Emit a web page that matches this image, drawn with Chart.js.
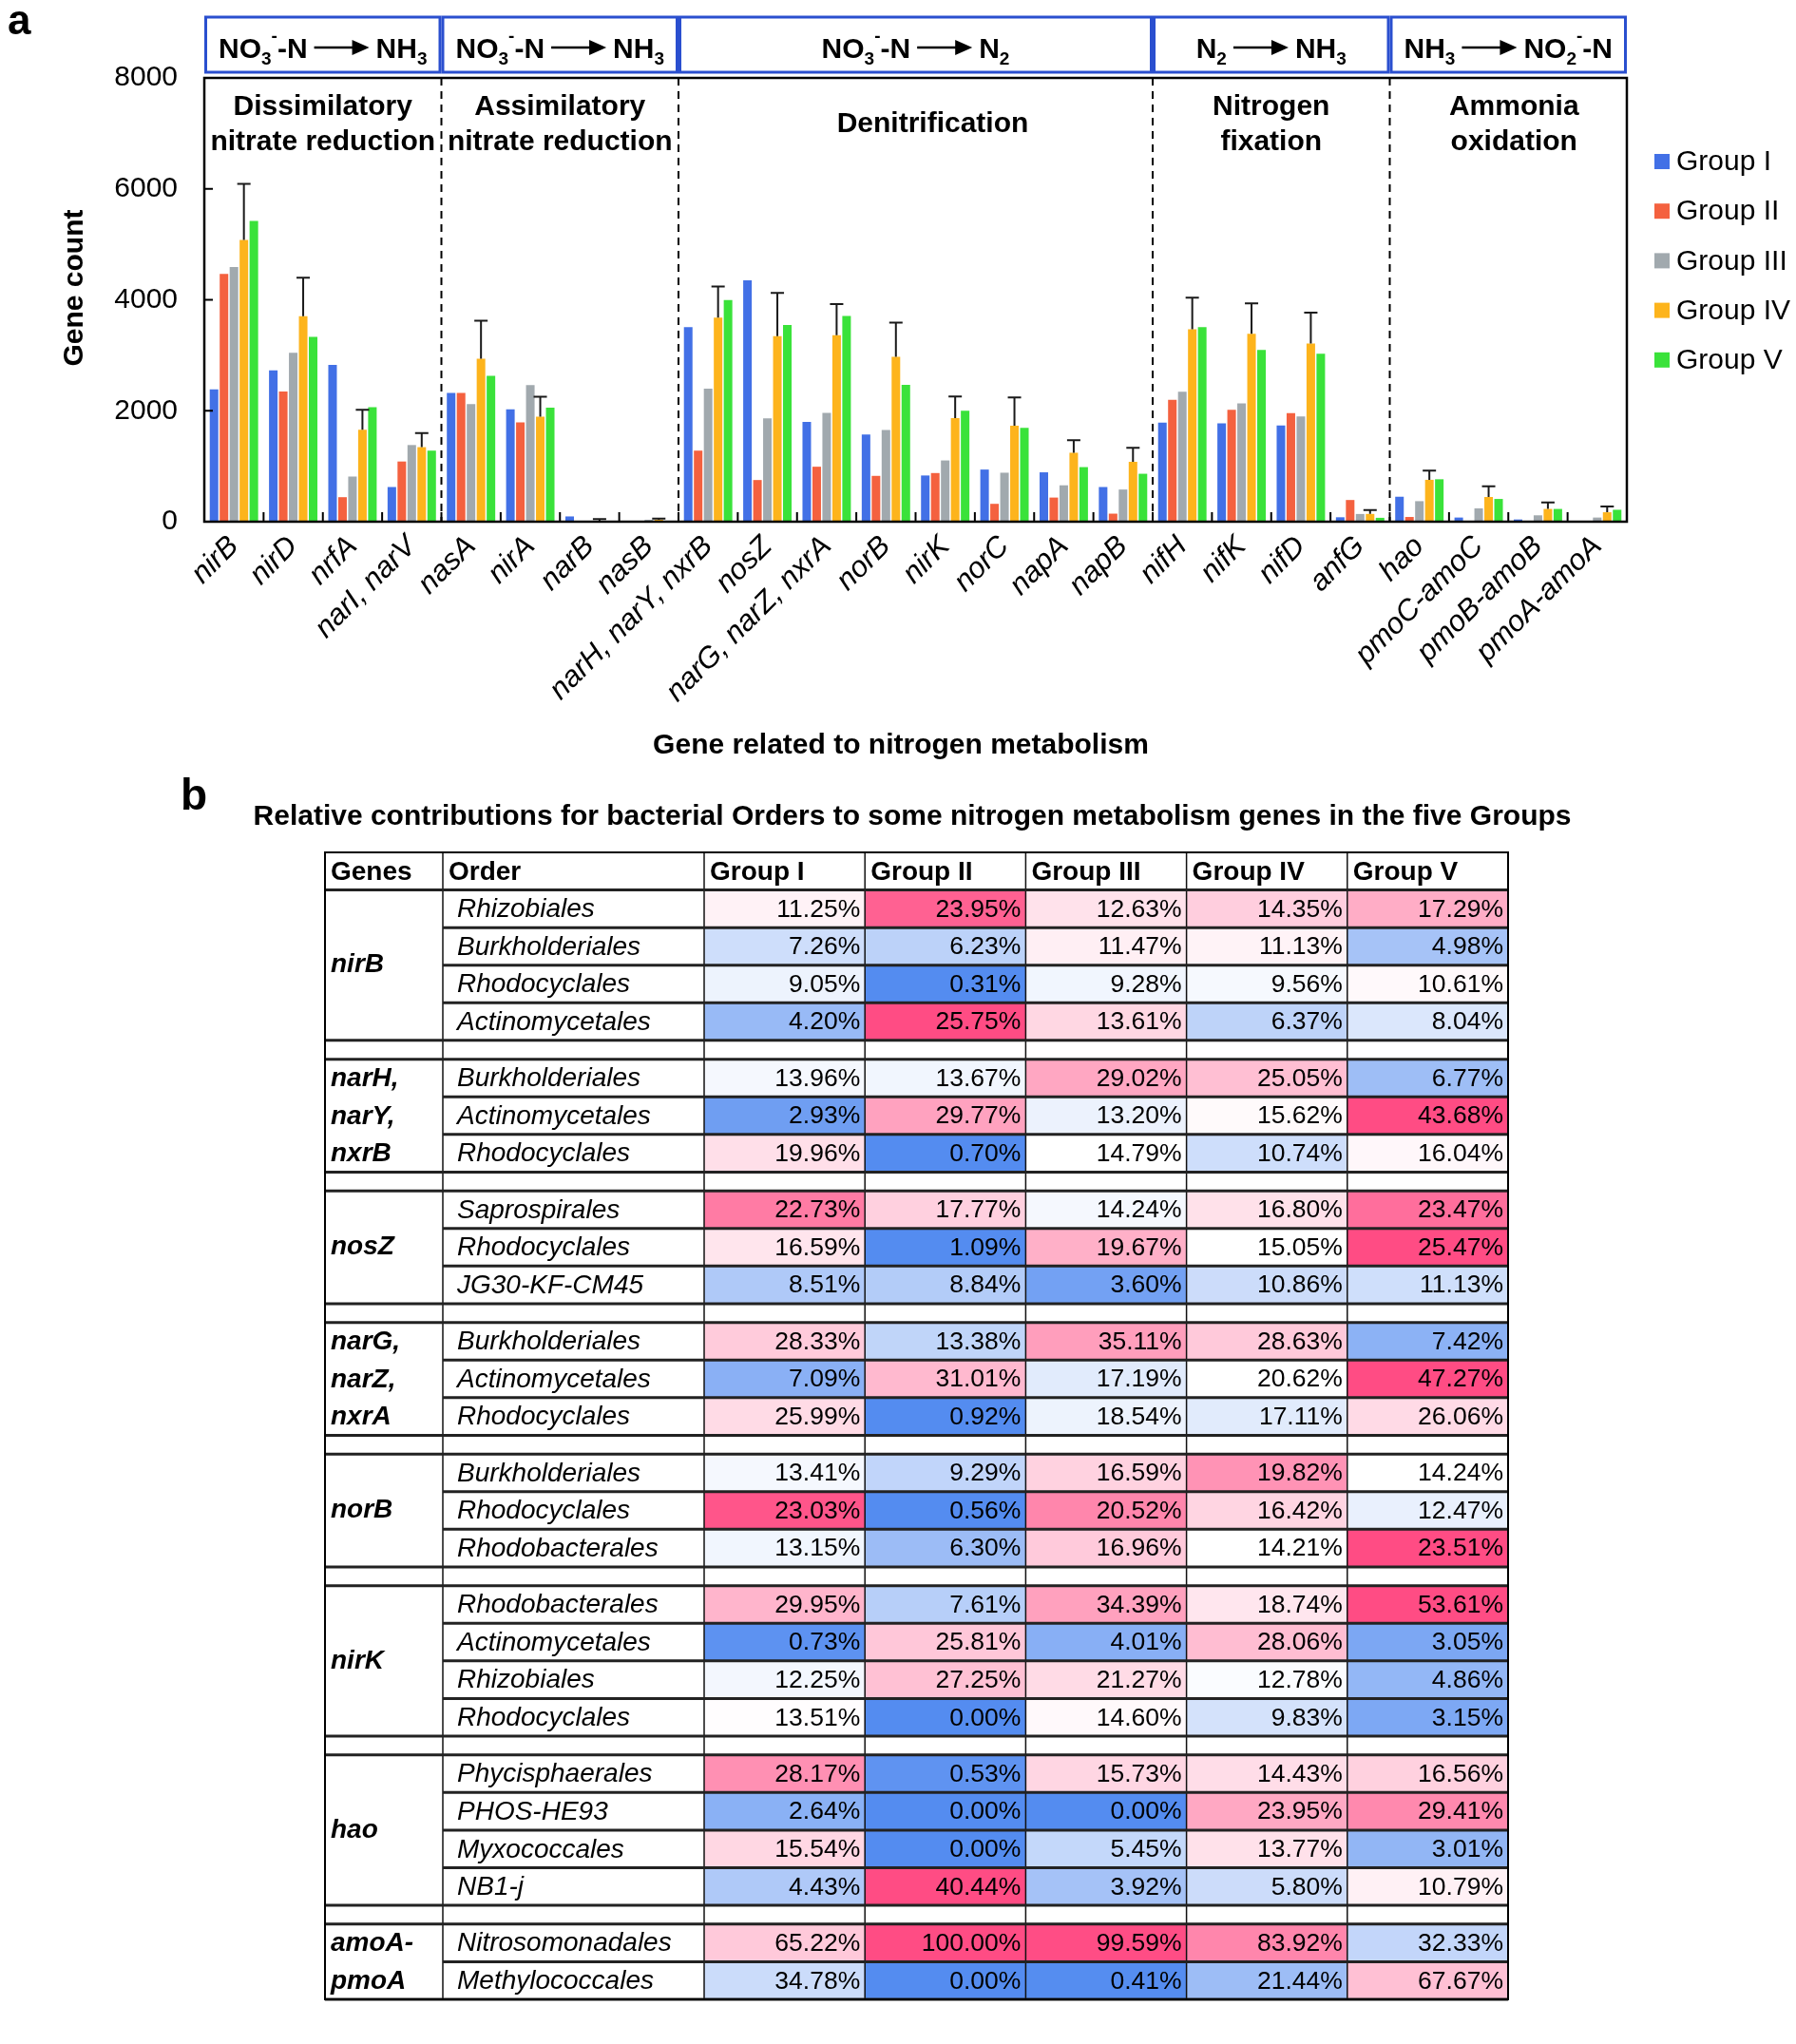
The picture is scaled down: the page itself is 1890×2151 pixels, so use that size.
<!DOCTYPE html>
<html>
<head>
<meta charset="utf-8">
<script src="https://cdn.jsdelivr.net/npm/chart.js@4.4.1/dist/chart.umd.min.js"></script>
<style>
  body { margin: 0; background: #fff; }
  #wrapA { position: absolute; left: 0; top: 0; width: 1890px; height: 805px; }
  #wrapB { position: absolute; left: 0; top: 805px; width: 1890px; height: 1346px; }
</style>
</head>
<body>
<div id="wrapA"><canvas id="barChart"></canvas></div>
<div id="wrapB"><canvas id="tableChart"></canvas></div>
<script>
// ---------- panel a data ----------
const genes = ['nirB', 'nirD', 'nrfA', 'narI, narV', 'nasA', 'nirA', 'narB', 'nasB',
  'narH, narY, nxrB', 'nosZ', 'narG, narZ, nxrA', 'norB', 'nirK', 'norC', 'napA', 'napB',
  'nifH', 'nifK', 'nifD', 'anfG', 'hao', 'pmoC-amoC', 'pmoB-amoB', 'pmoA-amoA'];
const groupNames = ['Group I', 'Group II', 'Group III', 'Group IV', 'Group V'];
const groupColors = ['#4270e6', '#f4613f', '#a1a9ae', '#fdb41c', '#3ae23a'];

const groupI   = [2385, 2726, 2826, 625, 2322, 2025, 95, 5, 3508, 4353, 1798, 1571, 833, 940, 890, 625, 1785, 1773, 1735, 80, 450, 75, 40, 15];
const groupII  = [4467, 2347, 442, 1085, 2322, 1792, 5, 0, 1281, 751, 991, 826, 877, 322, 435, 145, 2196, 2019, 1956, 391, 85, 0, 0, 5];
const groupIII = [4593, 3047, 814, 1382, 2120, 2461, 15, 35, 2397, 1861, 1962, 1653, 1104, 883, 656, 580, 2341, 2132, 1899, 139, 370, 240, 115, 75];
const groupIV  = [5079, 3703, 1659, 1344, 2940, 1893, 10, 35, 3678, 3344, 3363, 2972, 1868, 1729, 1243, 1079, 3470, 3388, 3211, 140, 755, 445, 230, 170];
const groupIVErr = [6088, 4397, 2019, 1596, 3621, 2252, 45, 55, 4240, 4126, 3924, 3590, 2259, 2240, 1470, 1331, 4038, 3937, 3767, 208, 920, 640, 345, 275];
const groupV   = [5420, 3331, 2063, 1281, 2631, 2057, 5, 10, 3994, 3546, 3710, 2467, 2000, 1691, 984, 864, 3508, 3098, 3028, 70, 765, 410, 230, 215];
const yTicks = [0, 2000, 4000, 6000, 8000];

const sectionEnds = [4, 8, 16, 20, 24];
const sectionNames = [['Dissimilatory', 'nitrate reduction'], ['Assimilatory', 'nitrate reduction'],
  ['Denitrification'], ['Nitrogen', 'fixation'], ['Ammonia', 'oxidation']];
const sectionNameShift = [0, 0, 18, 0, 6];
// '_' subscript, '^' superscript, '>' arrow
const sectionFormulas = [
  ['NO', '_3', '^-', '-N', '>', 'NH', '_3'],
  ['NO', '_3', '^-', '-N', '>', 'NH', '_3'],
  ['NO', '_3', '^-', '-N', '>', 'N', '_2'],
  ['N', '_2', '>', 'NH', '_3'],
  ['NH', '_3', '>', 'NO', '_2', '^-', '-N']
];

// ---------- panel b data ----------
const tableGeneLines = [['nirB'], ['narH,', 'narY,', 'nxrB'], ['nosZ'], ['narG,', 'narZ,', 'nxrA'],
  ['norB'], ['nirK'], ['hao'], ['amoA-', 'pmoA']];
const nirBOrders = ['Rhizobiales', 'Burkholderiales', 'Rhodocyclales', 'Actinomycetales'];
const nirBShares = [[11.25, 23.95, 12.63, 14.35, 17.29], [7.26, 6.23, 11.47, 11.13, 4.98],
  [9.05, 0.31, 9.28, 9.56, 10.61], [4.20, 25.75, 13.61, 6.37, 8.04]];
const narHOrders = ['Burkholderiales', 'Actinomycetales', 'Rhodocyclales'];
const narHShares = [[13.96, 13.67, 29.02, 25.05, 6.77], [2.93, 29.77, 13.20, 15.62, 43.68],
  [19.96, 0.70, 14.79, 10.74, 16.04]];
const nosZOrders = ['Saprospirales', 'Rhodocyclales', 'JG30-KF-CM45'];
const nosZShares = [[22.73, 17.77, 14.24, 16.80, 23.47], [16.59, 1.09, 19.67, 15.05, 25.47],
  [8.51, 8.84, 3.60, 10.86, 11.13]];
const narGOrders = ['Burkholderiales', 'Actinomycetales', 'Rhodocyclales'];
const narGShares = [[28.33, 13.38, 35.11, 28.63, 7.42], [7.09, 31.01, 17.19, 20.62, 47.27],
  [25.99, 0.92, 18.54, 17.11, 26.06]];
const norBOrders = ['Burkholderiales', 'Rhodocyclales', 'Rhodobacterales'];
const norBShares = [[13.41, 9.29, 16.59, 19.82, 14.24], [23.03, 0.56, 20.52, 16.42, 12.47],
  [13.15, 6.30, 16.96, 14.21, 23.51]];
const nirKOrders = ['Rhodobacterales', 'Actinomycetales', 'Rhizobiales', 'Rhodocyclales'];
const nirKShares = [[29.95, 7.61, 34.39, 18.74, 53.61], [0.73, 25.81, 4.01, 28.06, 3.05],
  [12.25, 27.25, 21.27, 12.78, 4.86], [13.51, 0.00, 14.60, 9.83, 3.15]];
const haoOrders = ['Phycisphaerales', 'PHOS-HE93', 'Myxococcales', 'NB1-j'];
const haoShares = [[28.17, 0.53, 15.73, 14.43, 16.56], [2.64, 0.00, 0.00, 23.95, 29.41],
  [15.54, 0.00, 5.45, 13.77, 3.01], [4.43, 40.44, 3.92, 5.80, 10.79]];
const amoAOrders = ['Nitrosomonadales', 'Methylococcales'];
const amoAShares = [[65.22, 100.00, 99.59, 83.92, 32.33], [34.78, 0.00, 0.41, 21.44, 67.67]];

const blockOrders = [nirBOrders, narHOrders, nosZOrders, narGOrders, norBOrders, nirKOrders, haoOrders, amoAOrders];
const blockShares = [nirBShares, narHShares, nosZShares, narGShares, norBShares, nirKShares, haoShares, amoAShares];

const FONT = '"Liberation Sans", Arial, Helvetica, sans-serif';
Chart.defaults.font.family = FONT;
Chart.defaults.color = '#000';
Chart.defaults.animation = false;

// ---------- panel a ----------
function drawFormula(ctx, tokens, cx, base) {
  const big = 'bold 30px ' + FONT, small = 'bold 19px ' + FONT;
  const parts = tokens.map(t => {
    if (t === '>') return { kind: 'arrow', w: 58 };
    const kind = t[0] === '_' ? 'sub' : t[0] === '^' ? 'sup' : 'main';
    const text = kind === 'main' ? t : t.slice(1);
    ctx.font = kind === 'main' ? big : small;
    return { kind, text, w: ctx.measureText(text).width };
  });
  const gap = 7;
  let total = 0;
  parts.forEach(p => total += p.kind === 'arrow' ? p.w + 2 * gap : p.w);
  let xPos = cx - total / 2;
  ctx.textAlign = 'left';
  ctx.textBaseline = 'alphabetic';
  parts.forEach(p => {
    if (p.kind === 'arrow') {
      const x0 = xPos + gap, x1 = xPos + gap + p.w, ay = base - 11;
      ctx.lineWidth = 2.5;
      ctx.beginPath(); ctx.moveTo(x0, ay); ctx.lineTo(x1 - 16, ay); ctx.stroke();
      ctx.beginPath(); ctx.moveTo(x1, ay); ctx.lineTo(x1 - 18, ay - 8); ctx.lineTo(x1 - 18, ay + 8); ctx.closePath(); ctx.fill();
      xPos = x1 + gap;
      return;
    }
    ctx.font = p.kind === 'main' ? big : small;
    const dy = p.kind === 'sub' ? 7 : p.kind === 'sup' ? -17 : 0;
    ctx.fillText(p.text, xPos, base + dy);
    xPos += p.w;
  });
}

const panelA = {
  id: 'panelA',
  afterDatasetsDraw(chart) {
    const { ctx, chartArea: a, scales: { x, y } } = chart;
    const edge = i => i === 0 ? a.left : i === genes.length ? a.right
      : (x.getPixelForValue(i - 1) + x.getPixelForValue(i)) / 2;
    ctx.save();
    // error bars on Group IV
    ctx.strokeStyle = '#1a1a1a';
    ctx.lineWidth = 2;
    chart.getDatasetMeta(3).data.forEach((bar, i) => {
      const top = y.getPixelForValue(groupIVErr[i]);
      ctx.beginPath();
      ctx.moveTo(bar.x, bar.y); ctx.lineTo(bar.x, top);
      ctx.moveTo(bar.x - 7, top); ctx.lineTo(bar.x + 7, top);
      ctx.stroke();
    });
    // inward ticks
    ctx.strokeStyle = '#000';
    for (let i = 1; i < genes.length; i++) {
      const ex = edge(i);
      ctx.beginPath(); ctx.moveTo(ex, a.bottom); ctx.lineTo(ex, a.bottom - 10); ctx.stroke();
    }
    yTicks.slice(1, -1).forEach(v => {
      const py = y.getPixelForValue(v);
      ctx.beginPath(); ctx.moveTo(a.left, py); ctx.lineTo(a.left + 9, py); ctx.stroke();
    });
    // dashed section separators
    ctx.setLineDash([8, 6]);
    sectionEnds.slice(0, -1).forEach(i => {
      const ex = edge(i);
      ctx.beginPath(); ctx.moveTo(ex, a.top); ctx.lineTo(ex, a.bottom); ctx.stroke();
    });
    ctx.setLineDash([]);
    // plot frame
    ctx.lineWidth = 2.5;
    ctx.strokeRect(a.left, a.top, a.right - a.left, a.bottom - a.top);
    // header boxes + section labels
    let start = 0;
    sectionEnds.forEach((end, s) => {
      const x0 = edge(start), x1 = edge(end), cx = (x0 + x1) / 2;
      ctx.strokeStyle = '#2a4fcf';
      ctx.lineWidth = 3;
      ctx.strokeRect(x0 + 1.5, 18, x1 - x0 - 3, 58);
      ctx.fillStyle = '#000'; ctx.strokeStyle = '#000';
      drawFormula(ctx, sectionFormulas[s], cx, 61);
      ctx.font = 'bold 30px ' + FONT;
      ctx.textAlign = 'center';
      ctx.textBaseline = 'middle';
      const lines = sectionNames[s];
      const lx = cx + sectionNameShift[s];
      if (lines.length === 1) ctx.fillText(lines[0], lx, 131);
      else lines.forEach((t, k) => ctx.fillText(t, lx, 113 + k * 37));
      start = end;
    });
    // legend
    ctx.font = '30px ' + FONT;
    ctx.textAlign = 'left';
    ctx.textBaseline = 'middle';
    groupNames.forEach((g, i) => {
      const cy = 170 + i * 52.2;
      ctx.fillStyle = groupColors[i];
      ctx.fillRect(1741, cy - 8, 16, 16);
      ctx.fillStyle = '#000';
      ctx.fillText(g, 1764, cy + 1);
    });
    // panel letter, axis titles
    ctx.font = 'bold 44px ' + FONT;
    ctx.fillText('a', 8, 24);
    ctx.font = 'bold 30px ' + FONT;
    ctx.textAlign = 'center';
    ctx.fillText('Gene related to nitrogen metabolism', 948, 785);
    ctx.translate(79, 303);
    ctx.rotate(-Math.PI / 2);
    ctx.fillText('Gene count', 0, 0);
    ctx.restore();
  }
};

new Chart(document.getElementById('barChart'), {
  type: 'bar',
  data: {
    labels: genes,
    datasets: [groupI, groupII, groupIII, groupIV, groupV].map((d, i) => ({
      label: groupNames[i],
      data: d,
      backgroundColor: groupColors[i],
      borderWidth: 0,
      categoryPercentage: 0.84,
      barPercentage: 0.86
    }))
  },
  options: {
    responsive: true,
    maintainAspectRatio: false,
    layout: { padding: { left: 0, top: 82, right: 178, bottom: 0 } },
    plugins: { legend: { display: false }, tooltip: { enabled: false } },
    scales: {
      x: {
        grid: { display: false, drawTicks: false },
        border: { display: false },
        ticks: {
          autoSkip: false, minRotation: 45, maxRotation: 45, padding: 8,
          font: { size: 31, style: 'italic' }, color: '#000'
        },
        afterFit: s => { s.height = 256; }
      },
      y: {
        min: 0, max: 8000,
        grid: { display: false, drawTicks: false },
        border: { display: false },
        afterBuildTicks: s => { s.ticks = yTicks.map(v => ({ value: v })); },
        ticks: { padding: 28, font: { size: 30 }, color: '#000', callback: v => String(v) },
        afterFit: s => { s.width = 215; }
      }
    }
  },
  plugins: [panelA]
});

// ---------- panel b ----------
const HEADER = 1, SPACER = 0.5;
const tableRows = [];
let cursor = HEADER;
blockShares.forEach((rows, b) => {
  const sorted = rows.flat().sort((p, q) => p - q);
  const n = sorted.length;
  const mid = n % 2 ? sorted[(n - 1) / 2] : (sorted[n / 2 - 1] + sorted[n / 2]) / 2;
  rows.forEach((vals, r) => {
    tableRows.push({ block: b, r, top: cursor, bottom: cursor + 1, vals, min: sorted[0], mid, max: sorted[n - 1] });
    cursor += 1;
  });
  if (b < blockShares.length - 1) cursor += SPACER;
});
const tableEnd = cursor;

const LOW = [84, 140, 240], HIGH = [255, 76, 132];
function heatColor(v, min, mid, max) {
  let t, c;
  if (v >= mid) { t = max > mid ? (v - mid) / (max - mid) : 0; c = HIGH; }
  else { t = (mid - v) / (mid - min); c = LOW; }
  const ch = k => Math.round(255 + (c[k] - 255) * t);
  return `rgb(${ch(0)},${ch(1)},${ch(2)})`;
}

const tablePlugin = {
  id: 'tableGrid',
  afterDatasetsDraw(chart) {
    const { ctx, chartArea: a, scales: { x, y } } = chart;
    const geneLeft = 342, orderLeft = 466;
    const half = (x.getPixelForValue(1) - x.getPixelForValue(0)) / 2;
    const colLefts = groupNames.map((g, i) => x.getPixelForValue(i) - half);
    const top = y.getPixelForValue(0), bottom = y.getPixelForValue(tableEnd);
    ctx.save();
    // titles
    ctx.fillStyle = '#000';
    ctx.textBaseline = 'middle';
    ctx.textAlign = 'left';
    ctx.font = 'bold 46px ' + FONT;
    ctx.fillText('b', 190, 34);
    ctx.font = 'bold 30px ' + FONT;
    ctx.textAlign = 'center';
    ctx.fillText('Relative contributions for bacterial Orders to some nitrogen metabolism genes in the five Groups', 960, 55);
    // header row
    const hy = (y.getPixelForValue(0) + y.getPixelForValue(HEADER)) / 2 + 1;
    ctx.textAlign = 'left';
    ctx.font = 'bold 28px ' + FONT;
    ctx.fillText('Genes', geneLeft + 6, hy);
    ctx.fillText('Order', orderLeft + 6, hy);
    groupNames.forEach((g, i) => ctx.fillText(g, colLefts[i] + 6, hy));
    // cells text
    tableRows.forEach((row, d) => {
      const cy = (y.getPixelForValue(row.top) + y.getPixelForValue(row.bottom)) / 2 + 1;
      ctx.textAlign = 'left';
      ctx.font = 'italic 28px ' + FONT;
      ctx.fillText(blockOrders[row.block][row.r], orderLeft + 15, cy);
      ctx.textAlign = 'right';
      ctx.font = '26.5px ' + FONT;
      chart.getDatasetMeta(d).data.forEach((bar, c) => {
        ctx.fillText(row.vals[c].toFixed(2) + '%', bar.x + bar.width / 2 - 5, cy);
      });
    });
    // gene names
    ctx.textAlign = 'left';
    ctx.font = 'bold italic 28px ' + FONT;
    tableGeneLines.forEach((lines, b) => {
      const rows = tableRows.filter(r => r.block === b);
      if (lines.length === 1) {
        const cy = (y.getPixelForValue(rows[0].top) + y.getPixelForValue(rows[rows.length - 1].bottom)) / 2;
        ctx.fillText(lines[0], geneLeft + 6, cy);
      } else {
        lines.forEach((t, k) => {
          const cy = (y.getPixelForValue(rows[k].top) + y.getPixelForValue(rows[k].bottom)) / 2 + 1;
          ctx.fillText(t, geneLeft + 6, cy);
        });
      }
    });
    // grid lines
    ctx.strokeStyle = '#111';
    ctx.lineWidth = 1.5;
    [orderLeft, ...colLefts].forEach(px => {
      ctx.beginPath(); ctx.moveTo(px, top); ctx.lineTo(px, bottom); ctx.stroke();
    });
    ctx.lineWidth = 3;
    ctx.strokeStyle = '#222';
    const hline = (x0, v) => {
      const py = y.getPixelForValue(v);
      ctx.beginPath(); ctx.moveTo(x0, py); ctx.lineTo(a.right, py); ctx.stroke();
    };
    hline(geneLeft, HEADER);
    tableRows.forEach((row, i) => {
      const next = tableRows[i + 1];
      const last = !next || next.block !== row.block;
      if (row.r === 0) hline(geneLeft, row.top);
      hline(last ? geneLeft : orderLeft, row.bottom);
    });
    ctx.lineWidth = 2;
    ctx.strokeStyle = '#000';
    ctx.strokeRect(geneLeft, top, a.right - geneLeft, bottom - top);
    ctx.restore();
  }
};

new Chart(document.getElementById('tableChart'), {
  type: 'bar',
  data: {
    labels: groupNames,
    datasets: tableRows.map(row => ({
      data: row.vals.map(() => [row.top, row.bottom]),
      backgroundColor: row.vals.map(v => heatColor(v, row.min, row.mid, row.max)),
      borderWidth: 0,
      grouped: false,
      barPercentage: 1,
      categoryPercentage: 1
    }))
  },
  options: {
    responsive: true,
    maintainAspectRatio: false,
    layout: { padding: { left: 741, right: 303, top: 92, bottom: 47 } },
    plugins: { legend: { display: false }, tooltip: { enabled: false } },
    scales: {
      x: { display: false },
      y: { display: false, min: 0, max: tableEnd, reverse: true }
    }
  },
  plugins: [tablePlugin]
});
</script>
</body>
</html>
